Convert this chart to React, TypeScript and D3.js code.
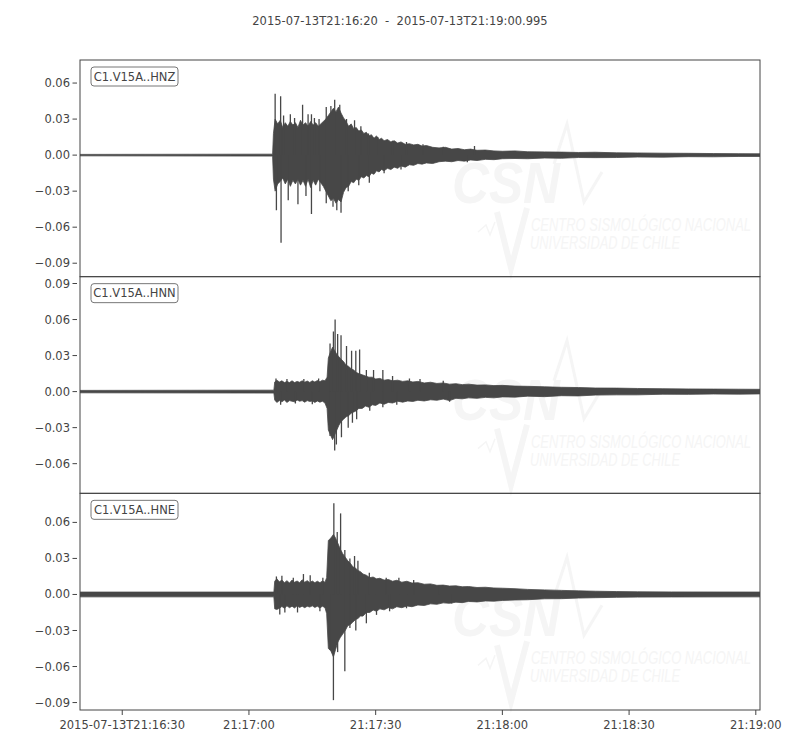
import React from "react";
import * as d3 from "d3";

// ---------- data ----------
const titleText = "2015-07-13T21:16:20  -  2015-07-13T21:19:00.995";
const traceDuration = 160.995; // seconds from 21:16:20
const channelLabels = ["C1.V15A..HNZ", "C1.V15A..HNN", "C1.V15A..HNE"];
const xTickSeconds = [10, 40, 70, 100, 130, 160];
const xTickLabels = ["2015-07-13T21:16:30", "21:17:00", "21:17:30", "21:18:00", "21:18:30", "21:19:00"];
const yTickStep = 0.03;

// envelope: [seconds, upper, lower]
const hnzEnvelope: [number, number, number][] = [
  [0, 0.0006, -0.0006], [45.6, 0.0008, -0.0008], [45.8, 0.018, -0.02], [46.2, 0.03, -0.03],
  [46.8, 0.026, -0.024], [47.4, 0.029, -0.022], [48.0, 0.023, -0.019], [48.6, 0.027, -0.024],
  [49.2, 0.024, -0.02], [49.8, 0.028, -0.026], [50.4, 0.025, -0.021], [51.0, 0.027, -0.024],
  [51.6, 0.023, -0.02], [52.2, 0.029, -0.025], [52.8, 0.025, -0.021], [53.4, 0.027, -0.026],
  [54.0, 0.024, -0.02], [54.6, 0.028, -0.027], [55.2, 0.025, -0.021], [55.8, 0.027, -0.025],
  [56.4, 0.024, -0.02], [57.0, 0.026, -0.023], [57.6, 0.028, -0.026], [58.2, 0.03, -0.03],
  [58.8, 0.033, -0.034], [59.4, 0.036, -0.038], [60.0, 0.039, -0.036], [60.6, 0.036, -0.04],
  [61.2, 0.04, -0.037], [61.8, 0.035, -0.039], [62.4, 0.031, -0.031], [63.0, 0.028, -0.027],
  [63.6, 0.024, -0.026], [64.2, 0.026, -0.022], [64.8, 0.022, -0.023], [65.4, 0.023, -0.02],
  [66.0, 0.02, -0.021], [66.6, 0.021, -0.018], [67.2, 0.018, -0.019], [67.8, 0.019, -0.017],
  [68.4, 0.016, -0.018], [69.0, 0.017, -0.015], [69.6, 0.014, -0.016], [70.2, 0.016, -0.013],
  [70.8, 0.013, -0.014], [71.4, 0.014, -0.012], [72.0, 0.012, -0.013], [72.8, 0.013, -0.011],
  [73.6, 0.011, -0.012], [74.4, 0.012, -0.01], [75.2, 0.01, -0.011], [76.0, 0.011, -0.009],
  [77.0, 0.009, -0.01], [78.0, 0.0095, -0.008], [79.0, 0.0085, -0.0085], [80.0, 0.009, -0.007],
  [81.0, 0.0075, -0.0075], [82.0, 0.008, -0.0065], [83.5, 0.0065, -0.007], [85.0, 0.006, -0.0055],
  [86.5, 0.0065, -0.005], [88.0, 0.005, -0.0055], [89.5, 0.0055, -0.0045], [91.0, 0.0045, -0.005],
  [92.5, 0.005, -0.004], [94.0, 0.004, -0.0045], [96.0, 0.0042, -0.0035], [98.0, 0.0035, -0.0038],
  [100, 0.0032, -0.003], [103, 0.0035, -0.0028], [106, 0.0028, -0.003], [110, 0.0027, -0.0024],
  [114, 0.0025, -0.0026], [118, 0.0022, -0.002], [122, 0.0024, -0.0021], [127, 0.0019, -0.002],
  [132, 0.0018, -0.0016], [138, 0.0016, -0.0017], [144, 0.0015, -0.0013], [150, 0.0013, -0.0014],
  [156, 0.0012, -0.0011], [161, 0.0011, -0.0011],
];
const hnzSpikes: [number, number][] = [
  [46.2, 0.051], [47.5, 0.049], [48.2, 0.033], [49.8, 0.034], [50.8, 0.031], [52.7, 0.042],
  [54.0, 0.034], [54.8, 0.034], [55.5, 0.031], [56.6, 0.03], [58.3, 0.04], [59.4, 0.041],
  [60.3, 0.046], [61.5, 0.042], [63.1, 0.03], [65.0, 0.029], [66.5, 0.024], [68.3, 0.018],
  [70.5, 0.015], [74, 0.012], [77.3, 0.011], [81.2, 0.009], [86, 0.007], [93.4, 0.0075],
  [46.5, -0.046], [47.6, -0.073], [49.3, -0.0375], [51.6, -0.041], [53.5, -0.034], [54.8, -0.049],
  [56.8, -0.03], [58.3, -0.04], [59.9, -0.043], [60.8, -0.046], [61.8, -0.048], [63.5, -0.03],
  [66, -0.025], [68.5, -0.023], [72, -0.015], [76, -0.012], [91.7, -0.006],
];

const hnnEnvelope: [number, number, number][] = [
  [0, 0.001, -0.001], [45.9, 0.0012, -0.0012], [46.1, 0.008, -0.007], [46.6, 0.0095, -0.009],
  [47.2, 0.008, -0.0075], [47.8, 0.009, -0.0085], [48.4, 0.0075, -0.007], [49.0, 0.0085, -0.009],
  [49.6, 0.0075, -0.0075], [50.2, 0.009, -0.008], [50.8, 0.0075, -0.0085], [51.4, 0.0085, -0.007],
  [52.0, 0.0078, -0.008], [52.6, 0.009, -0.0075], [53.2, 0.0078, -0.0088], [53.8, 0.0088, -0.0075],
  [54.4, 0.0076, -0.0082], [55.0, 0.009, -0.0078], [55.6, 0.008, -0.009], [56.2, 0.0092, -0.0078],
  [56.8, 0.0082, -0.0088], [57.4, 0.0095, -0.008], [58.0, 0.009, -0.0095], [58.5, 0.012, -0.014],
  [58.8, 0.028, -0.032], [59.3, 0.033, -0.036], [59.8, 0.037, -0.04], [60.3, 0.034, -0.036],
  [60.8, 0.031, -0.032], [61.3, 0.029, -0.028], [61.8, 0.027, -0.025], [62.4, 0.025, -0.023],
  [63.0, 0.022, -0.021], [63.6, 0.021, -0.02], [64.2, 0.019, -0.018], [64.8, 0.018, -0.017],
  [65.4, 0.016, -0.016], [66.0, 0.015, -0.014], [66.8, 0.014, -0.014], [67.6, 0.013, -0.012],
  [68.4, 0.012, -0.013], [69.2, 0.012, -0.011], [70.0, 0.0105, -0.0115], [71.0, 0.011, -0.0095],
  [72.0, 0.0095, -0.0105], [73.0, 0.01, -0.009], [74.0, 0.009, -0.0095], [75.2, 0.0095, -0.008],
  [76.4, 0.0085, -0.0088], [77.6, 0.009, -0.0078], [78.8, 0.008, -0.0082], [80.0, 0.0085, -0.0072],
  [81.5, 0.0072, -0.0078], [83.0, 0.0078, -0.0068], [84.5, 0.0068, -0.0072], [86.0, 0.0072, -0.0062],
  [87.5, 0.0062, -0.0075], [89.0, 0.0066, -0.0056], [90.5, 0.0058, -0.006], [92.0, 0.0062, -0.0052],
  [94.0, 0.0054, -0.0056], [96.0, 0.0056, -0.0048], [98.0, 0.005, -0.0052], [100, 0.0052, -0.0044],
  [103, 0.0046, -0.0046], [106, 0.0044, -0.0038], [110, 0.004, -0.0042], [114, 0.0036, -0.0034],
  [118, 0.0034, -0.0036], [122, 0.003, -0.0029], [127, 0.0029, -0.0027], [132, 0.0026, -0.0027],
  [138, 0.0024, -0.0022], [144, 0.0022, -0.0023], [150, 0.0021, -0.002], [156, 0.002, -0.0021],
  [161, 0.0019, -0.0019],
];
const hnnSpikes: [number, number][] = [
  [46.4, 0.011], [49, 0.0105], [53, 0.0105], [56.5, 0.011], [59.2, 0.04], [60.0, 0.05],
  [60.4, 0.06], [61.0, 0.048], [61.8, 0.047], [63.1, 0.038], [64.3, 0.034], [65.3, 0.034],
  [66.2, 0.035], [67.8, 0.018], [69.5, 0.018], [71.7, 0.018], [74, 0.013], [78.0, 0.011],
  [80.5, 0.0105], [86, 0.009],
  [47.5, -0.011], [51, -0.01], [55, -0.0105], [59.2, -0.037], [60.3, -0.049], [60.7, -0.044],
  [61.9, -0.038], [63.5, -0.03], [64.5, -0.026], [65.5, -0.023], [68.6, -0.016], [71.7, -0.013],
  [75, -0.011], [87.5, -0.0085],
];

const hneEnvelope: [number, number, number][] = [
  [0, 0.002, -0.002], [45.9, 0.002, -0.002], [46.1, 0.011, -0.012], [46.6, 0.013, -0.0125],
  [47.2, 0.0105, -0.0115], [47.8, 0.012, -0.01], [48.4, 0.0098, -0.0115], [49.0, 0.0115, -0.0095],
  [49.6, 0.0095, -0.011], [50.2, 0.012, -0.0098], [50.8, 0.0102, -0.0112], [51.4, 0.0112, -0.0095],
  [52.0, 0.0098, -0.0108], [52.6, 0.0122, -0.0098], [53.2, 0.0102, -0.011], [53.8, 0.0115, -0.0098],
  [54.4, 0.0098, -0.0105], [55.0, 0.0112, -0.0095], [55.6, 0.0098, -0.0108], [56.2, 0.011, -0.0098],
  [56.8, 0.0098, -0.0112], [57.4, 0.0112, -0.0098], [58.0, 0.0102, -0.011], [58.4, 0.014, -0.016],
  [58.8, 0.045, -0.045], [59.4, 0.047, -0.047], [60.0, 0.05, -0.052], [60.5, 0.047, -0.046],
  [61.0, 0.043, -0.04], [61.6, 0.038, -0.036], [62.2, 0.034, -0.033], [62.8, 0.031, -0.03],
  [63.4, 0.028, -0.026], [64.0, 0.026, -0.025], [64.6, 0.023, -0.023], [65.2, 0.022, -0.021],
  [65.8, 0.02, -0.02], [66.4, 0.019, -0.018], [67.0, 0.017, -0.018], [67.8, 0.016, -0.015],
  [68.6, 0.014, -0.015], [69.4, 0.0145, -0.013], [70.2, 0.013, -0.014], [71.0, 0.0135, -0.012],
  [72.0, 0.012, -0.0128], [73.0, 0.0125, -0.011], [74.0, 0.011, -0.012], [75.0, 0.0118, -0.0102],
  [76.2, 0.0102, -0.011], [77.4, 0.011, -0.0096], [78.6, 0.0095, -0.0102], [80.0, 0.0098, -0.0088],
  [81.5, 0.0085, -0.0092], [83.0, 0.0088, -0.0078], [84.5, 0.0076, -0.0082], [86.0, 0.0078, -0.007],
  [87.5, 0.007, -0.0074], [89.0, 0.0072, -0.0064], [90.5, 0.0064, -0.0068], [92.0, 0.0066, -0.0058],
  [94.0, 0.0058, -0.0062], [96.0, 0.006, -0.0054], [98.0, 0.0054, -0.0056], [100, 0.0052, -0.005],
  [103, 0.0048, -0.0046], [106, 0.0042, -0.0044], [110, 0.0038, -0.0036], [114, 0.0034, -0.0035],
  [118, 0.003, -0.003], [122, 0.0027, -0.0027], [127, 0.0024, -0.0024], [132, 0.0022, -0.0022],
  [140, 0.0021, -0.0021], [161, 0.002, -0.002],
];
const hneSpikes: [number, number][] = [
  [46.5, 0.015], [47.8, 0.0156], [50.5, 0.014], [52.9, 0.017], [54.5, 0.016], [57.5, 0.014],
  [60.1, 0.076], [60.9, 0.052], [61.7, 0.0675], [62.7, 0.037], [63.9, 0.03], [65.0, 0.032],
  [65.8, 0.028], [68.5, 0.018], [72.5, 0.014], [75.5, 0.014], [79, 0.012], [85, 0.0075],
  [47.3, -0.0167], [48.5, -0.015], [51.5, -0.015], [56.8, -0.014], [59.1, -0.046], [60.0, -0.088],
  [61.0, -0.048], [62.7, -0.064], [63.9, -0.028], [65.3, -0.03], [67.8, -0.024], [70.2, -0.017],
  [73.3, -0.014], [77.3, -0.0115], [88, -0.0075],
];

const envelopes = [hnzEnvelope, hnnEnvelope, hneEnvelope];
const spikes = [hnzSpikes, hnnSpikes, hneSpikes];

// ---------- layout ----------
const W = 800;
const H = 750;
const left = 80;
const right = 760;
const top = 60;
const bottom = 710;
const panelH = (bottom - top) / 3;
const ink = "#474747";
const textCol = "#444";
const font = "DejaVu Sans, sans-serif";

function fmt(v: number) {
  const s = Math.abs(v).toFixed(2);
  return v < -1e-9 ? "\u2212" + s : s;
}

function Watermark({ pt }: { pt: number }) {
  const c = "#f5f5f5";
  return (
    <g>
      <text x={452} y={pt + 143} fontFamily="Liberation Sans, sans-serif" fontWeight="bold" fontStyle="italic"
        fontSize={58} fill={c} textLength={108} lengthAdjust="spacingAndGlyphs">CSN</text>
      <polyline points={`554,${pt + 104} 567,${pt + 64} 584,${pt + 142} 602,${pt + 112}`} fill="none" stroke={c} strokeWidth={3} />
      <polyline points={`478,${pt + 172} 486,${pt + 165} 490,${pt + 175} 495,${pt + 162}`} fill="none" stroke={c} strokeWidth={1.5} />
      <polyline points={`497,${pt + 152} 511,${pt + 208} 527,${pt + 148}`} fill="none" stroke={c} strokeWidth={6} />
      <g transform={`translate(531, ${pt + 171}) scale(1, 1.5)`}>
        <text x={0} y={0} fontFamily="Liberation Sans, sans-serif" fontStyle="italic"
          fontSize={12} fill={c} textLength={220} lengthAdjust="spacingAndGlyphs">CENTRO SISMOLÓGICO NACIONAL</text>
      </g>
      <g transform={`translate(530, ${pt + 189}) scale(1, 1.5)`}>
        <text x={0} y={0} fontFamily="Liberation Sans, sans-serif" fontStyle="italic"
          fontSize={12} fill={c} textLength={150} lengthAdjust="spacingAndGlyphs">UNIVERSIDAD DE CHILE</text>
      </g>
    </g>
  );
}

export default function App() {
  const x = d3.scaleLinear().domain([0, traceDuration]).range([left, right]);

  // equal scale across panels, centred on each trace
  const extents = envelopes.map((env, i) => {
    const hi = d3.max([...env.map((d) => d[1]), ...spikes[i].map((d) => d[1])]) as number;
    const lo = d3.min([...env.map((d) => d[2]), ...spikes[i].map((d) => d[1])]) as number;
    return [lo, hi];
  });
  const span = (d3.max(extents, (e) => e[1] - e[0]) as number) * 1.1;

  return (
    <svg width={W} height={H} style={{ display: "block", position: "absolute", left: 0, top: 0 }}>
      <rect width={W} height={H} fill="#fff" />
      <text x={400} y={25} textAnchor="middle" fontFamily={font} fontSize={11.5} fill={textCol}
        style={{ whiteSpace: "pre" }} xmlSpace="preserve">{titleText}</text>
      {envelopes.map((env, i) => {
        const pt = top + i * panelH;
        const mid = (extents[i][0] + extents[i][1]) / 2;
        const y = d3.scaleLinear().domain([mid - span / 2, mid + span / 2]).range([pt + panelH, pt]);
        const area = d3.area<[number, number, number]>()
          .x((d) => x(d[0]))
          .y0((d) => y(d[2]))
          .y1((d) => y(d[1]));
        const [d0, d1] = y.domain();
        const ticks = d3.range(Math.ceil(d0 / yTickStep), Math.floor(d1 / yTickStep) + 1).map((k) => k * yTickStep);
        const clipId = `clip${i}`;
        return (
          <g key={i}>
            <defs>
              <clipPath id={clipId}>
                <rect x={left} y={pt} width={right - left} height={panelH} />
              </clipPath>
            </defs>
            <Watermark pt={pt} />
            <g clipPath={`url(#${clipId})`}>
              <path d={area(env) || ""} fill={ink} stroke={ink} strokeWidth={0.8} strokeLinejoin="miter" />
              {spikes[i].map((s, j) => (
                <line key={j} x1={x(s[0])} x2={x(s[0])} y1={y(0)} y2={y(s[1])} stroke={ink} strokeWidth={1.3} />
              ))}
            </g>
            {ticks.map((t) => (
              <g key={t}>
                <line x1={left - 7.5} x2={left - 3} y1={y(t)} y2={y(t)} stroke={textCol} strokeWidth={1} />
                <text x={left - 10} y={y(t)} dy="0.35em" textAnchor="end" fontFamily={font} fontSize={11.5} fill={textCol}>
                  {fmt(t)}
                </text>
              </g>
            ))}
            <rect x={left} y={pt} width={right - left} height={panelH} fill="none" stroke={textCol} strokeWidth={1} />
            <rect x={91} y={pt + 7} width={87} height={19} rx={3} fill="#fff" stroke="#777" strokeWidth={1} />
            <text x={134.5} y={pt + 16.5} dy="0.35em" textAnchor="middle" fontFamily={font} fontSize={11.5} fill={textCol}>
              {channelLabels[i]}
            </text>
          </g>
        );
      })}
      {xTickSeconds.map((s, i) => (
        <g key={s}>
          <line x1={x(s)} x2={x(s)} y1={bottom} y2={bottom + 5} stroke={textCol} strokeWidth={1} />
          <text x={x(s)} y={bottom + 19} textAnchor="middle" fontFamily={font} fontSize={11.5} fill={textCol}>
            {xTickLabels[i]}
          </text>
        </g>
      ))}
    </svg>
  );
}
